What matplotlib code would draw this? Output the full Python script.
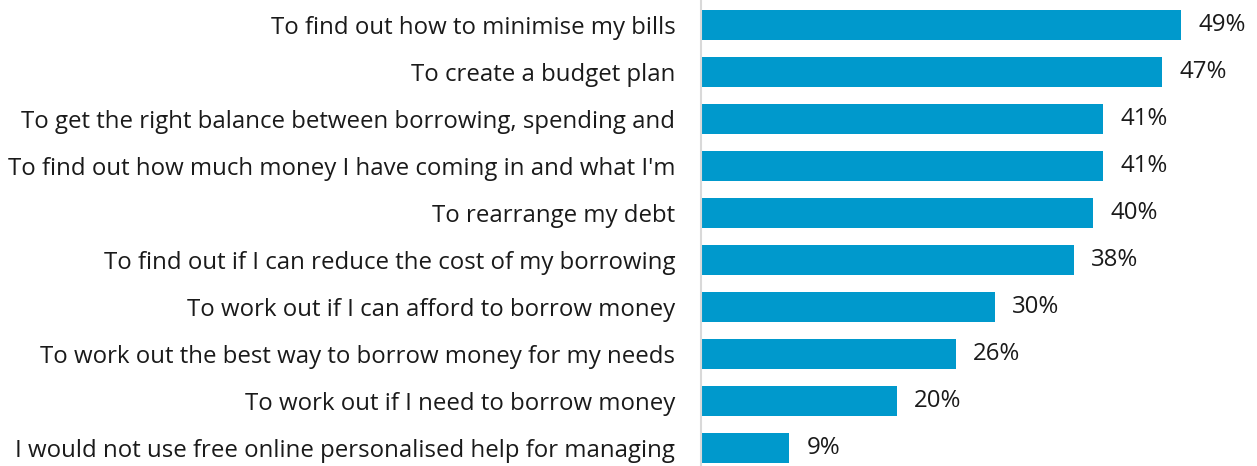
import matplotlib.pyplot as plt
import numpy as np

plt.rcParams['font.family'] = ['Open Sans', 'DejaVu Sans']

reasons = [
    'To find out how to minimise my bills',
    'To create a budget plan',
    'To get the right balance between borrowing, spending and',
    "To find out how much money I have coming in and what I'm",
    'To rearrange my debt',
    'To find out if I can reduce the cost of my borrowing',
    'To work out if I can afford to borrow money',
    'To work out the best way to borrow money for my needs',
    'To work out if I need to borrow money',
    'I would not use free online personalised help for managing',
]
share = [49, 47, 41, 41, 40, 38, 30, 26, 20, 9]

fig = plt.figure(figsize=(12.57, 4.66), dpi=100)
ax = fig.add_axes([701 / 1257, 0, 1 - 701 / 1257, 1])

y = np.arange(len(reasons))
ax.barh(y, share, height=0.64, color='#0099CC')

for yi, v in zip(y, share):
    ax.text(v + 1.75, yi, f'{v}%', va='center', ha='left', fontsize=17.3, color='#1a1a1a')

ax.set_yticks(y)
ax.set_yticklabels(reasons, fontsize=17.3, color='#1a1a1a')
ax.tick_params(axis='y', length=0, pad=18.5)
ax.set_xticks([])
ax.set_xlim(0, 56.7)
ax.set_ylim(9.383, -0.532)

for s in ['top', 'right', 'bottom']:
    ax.spines[s].set_visible(False)
ax.spines['left'].set_color('#d9d9d9')
ax.spines['left'].set_linewidth(1.5)

fig.savefig('out.png', dpi=100)
